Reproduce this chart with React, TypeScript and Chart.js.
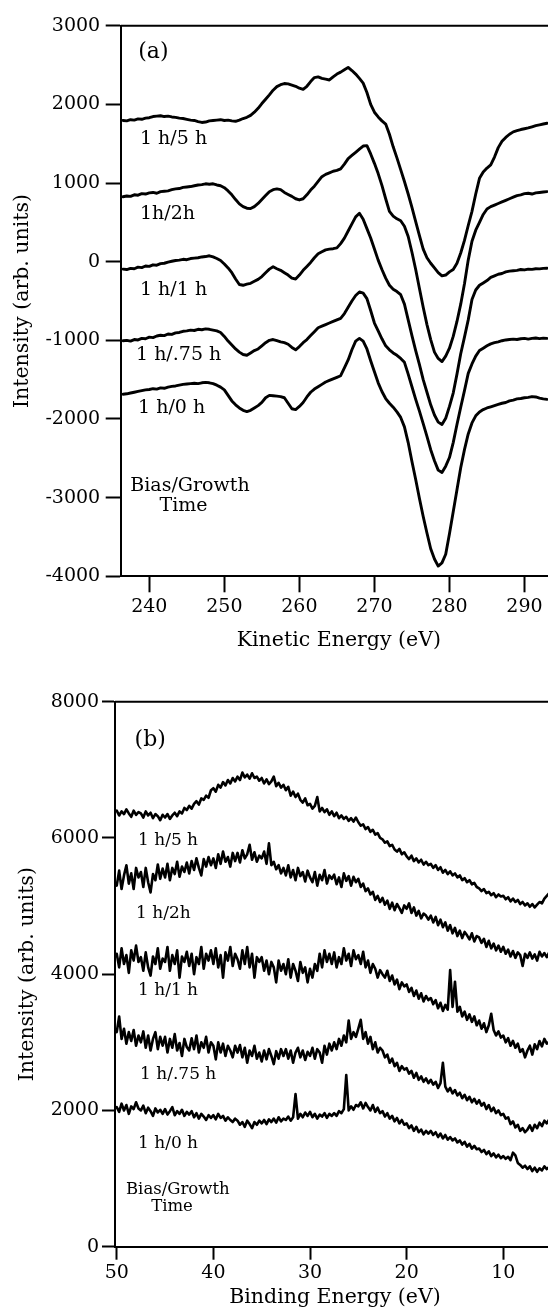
import React, { useEffect, useRef } from 'react';
import { Chart, registerables } from 'chart.js';

Chart.register(...registerables);

const FONT = "'DejaVu Serif', 'Liberation Serif', serif";
const INK = '#000';

// ---------- Panel (a): Auger spectra ----------
const kineticEnergy = [
  236.5, 237, 237.5, 238, 238.5, 239, 239.5, 240, 240.5, 241,
  241.5, 242, 242.5, 243, 243.5, 244, 244.5, 245, 245.5, 246,
  246.5, 247, 247.5, 248, 248.5, 249, 249.5, 250, 250.5, 251,
  251.5, 252, 252.5, 253, 253.5, 254, 254.5, 255, 255.5, 256,
  256.5, 257, 257.5, 258, 258.5, 259, 259.5, 260, 260.5, 261,
  261.5, 262, 262.5, 263, 263.5, 264, 264.5, 265, 265.5, 266,
  266.5, 267, 267.5, 268, 268.5, 269, 269.5, 270, 270.5, 271,
  271.5, 272, 272.5, 273, 273.5, 274, 274.5, 275, 275.5, 276,
  276.5, 277, 277.5, 278, 278.5, 279, 279.5, 280, 280.5, 281,
  281.5, 282, 282.5, 283, 283.5, 284, 284.5, 285, 285.5, 286,
  286.5, 287, 287.5, 288, 288.5, 289, 289.5, 290, 290.5, 291,
  291.5, 292, 292.5, 293,
];

const auger5h = [
  1795, 1790, 1805, 1800, 1815, 1810, 1825, 1830, 1845, 1850,
  1855, 1845, 1850, 1840, 1835, 1825, 1820, 1810, 1800, 1795,
  1780, 1770, 1775, 1790, 1795, 1800, 1805, 1795, 1800, 1790,
  1785, 1800, 1820, 1835, 1860, 1900, 1950, 2010, 2065, 2120,
  2180, 2225, 2250, 2265, 2260, 2245, 2230, 2205, 2190, 2230,
  2290, 2340, 2350, 2330, 2320, 2310, 2350, 2385, 2410, 2440,
  2470, 2430, 2385, 2330, 2270, 2150, 2000, 1900, 1840, 1790,
  1750, 1620, 1460, 1320, 1170, 1020, 860, 690, 510, 330,
  160, 50, -20, -80, -140, -180, -170, -130, -100, -20,
  110, 270, 460, 640, 860, 1060, 1140, 1190, 1230, 1330,
  1450, 1530, 1580, 1620, 1650, 1665, 1680, 1690, 1700, 1715,
  1730, 1740, 1750, 1760,
];

const auger2h = [
  825, 835, 830, 850, 845, 865, 860, 875, 880, 870,
  890, 895, 900, 915, 925, 930, 945, 950, 955, 965,
  975, 980, 990, 985, 990, 975, 965, 940, 900, 850,
  790, 735, 700, 680, 675, 700, 740, 790, 840, 890,
  915, 925, 915, 880, 855, 830, 800, 785, 800, 850,
  910, 960, 1020, 1080, 1110, 1130, 1150, 1160, 1180, 1240,
  1310, 1350, 1390, 1430, 1470, 1475, 1370, 1250, 1120, 970,
  800, 640, 580, 545, 520, 450, 320, 120, -100, -340,
  -580, -800, -990, -1150, -1230, -1270, -1200, -1100, -950, -760,
  -540, -280, 20, 260, 400, 500, 600, 670, 700, 720,
  740, 760, 780, 800, 820, 840, 850, 865, 870, 860,
  875, 880, 885, 890,
];

const auger1h = [
  -95, -100, -85, -90, -70, -75, -55, -60, -40, -45,
  -25, -20, -5, 5, 15, 20, 30, 25, 40, 45,
  50, 60, 65, 75, 60, 40, 15, -30, -80, -140,
  -220, -290, -300, -285, -275, -250, -225, -190, -140, -95,
  -65, -90, -110, -140, -170, -210, -220, -170, -110, -60,
  -10, 50, 100, 125, 150, 160, 165, 175, 230, 300,
  390, 480, 570, 615, 540, 420, 300, 160, 20, -100,
  -210, -300, -350, -380, -420, -540, -740, -940, -1130, -1310,
  -1500, -1660, -1820, -1950, -2040, -2070, -1990, -1840, -1670, -1430,
  -1170, -960, -740, -480, -360, -300, -270, -240, -200, -180,
  -160, -150, -130, -120, -115, -110, -100, -105, -95, -98,
  -90, -92, -85, -84,
];

const auger075h = [
  -1005, -1000, -1010, -990, -995, -975, -980, -960, -965, -945,
  -935, -940, -920, -925, -905, -900, -885, -880, -870, -875,
  -860, -865, -855, -860, -870, -880, -900, -950, -1010, -1060,
  -1110, -1150, -1180, -1190, -1160, -1130, -1110, -1070, -1030, -1000,
  -990, -1005, -1020, -1030, -1050, -1090, -1120, -1080, -1030, -990,
  -940, -890, -840, -820, -800, -780, -760, -740, -720, -660,
  -580, -500, -430, -385, -400, -470, -620, -780, -880, -980,
  -1070, -1120, -1160, -1190, -1230, -1280, -1430, -1590, -1750, -1900,
  -2060, -2220, -2390, -2530, -2650, -2680, -2600, -2490, -2300, -2070,
  -1850, -1640, -1420, -1300, -1200, -1130, -1100, -1070, -1045, -1030,
  -1020, -1005, -995, -990, -985, -990, -980, -975, -985, -975,
  -970, -978, -972, -975,
];

const auger0h = [
  -1685, -1680, -1670, -1660, -1650, -1640, -1630, -1625, -1615, -1620,
  -1605, -1610, -1595, -1585, -1580, -1570, -1560, -1555, -1550, -1545,
  -1550, -1540, -1535, -1540, -1550, -1570, -1595, -1630, -1700, -1770,
  -1820, -1860, -1890, -1905, -1890, -1860, -1830, -1790, -1730, -1700,
  -1705, -1710, -1715, -1730, -1800, -1870, -1880, -1840, -1790, -1720,
  -1660, -1620, -1590, -1560, -1530, -1510, -1490, -1470, -1450, -1350,
  -1250, -1120, -1010, -975, -1010, -1110, -1260, -1400, -1540, -1650,
  -1740, -1800, -1850, -1910, -1980, -2100, -2300, -2540, -2770, -3010,
  -3240, -3450, -3650, -3780, -3870, -3830, -3720, -3460, -3180, -2900,
  -2620, -2390, -2190, -2050, -1960, -1910, -1880, -1860, -1845, -1830,
  -1815, -1800, -1790, -1770, -1760, -1745, -1740, -1730, -1725, -1715,
  -1720, -1735, -1745, -1750,
];

const kineticTicks = [240, 250, 260, 270, 280, 290];
const augerIntensityTicks = [-4000, -3000, -2000, -1000, 0, 1000, 2000, 3000];
const augerLabels = ['1 h/5 h', '1h/2h', '1 h/1 h', '1 h/.75 h', '1 h/0 h'];

// ---------- Panel (b): valence band spectra ----------
const bindingEnergy = [
  50, 49.75, 49.5, 49.25, 49, 48.75, 48.5, 48.25, 48, 47.75,
  47.5, 47.25, 47, 46.75, 46.5, 46.25, 46, 45.75, 45.5, 45.25,
  45, 44.75, 44.5, 44.25, 44, 43.75, 43.5, 43.25, 43, 42.75,
  42.5, 42.25, 42, 41.75, 41.5, 41.25, 41, 40.75, 40.5, 40.25,
  40, 39.75, 39.5, 39.25, 39, 38.75, 38.5, 38.25, 38, 37.75,
  37.5, 37.25, 37, 36.75, 36.5, 36.25, 36, 35.75, 35.5, 35.25,
  35, 34.75, 34.5, 34.25, 34, 33.75, 33.5, 33.25, 33, 32.75,
  32.5, 32.25, 32, 31.75, 31.5, 31.25, 31, 30.75, 30.5, 30.25,
  30, 29.75, 29.5, 29.25, 29, 28.75, 28.5, 28.25, 28, 27.75,
  27.5, 27.25, 27, 26.75, 26.5, 26.25, 26, 25.75, 25.5, 25.25,
  25, 24.75, 24.5, 24.25, 24, 23.75, 23.5, 23.25, 23, 22.75,
  22.5, 22.25, 22, 21.75, 21.5, 21.25, 21, 20.75, 20.5, 20.25,
  20, 19.75, 19.5, 19.25, 19, 18.75, 18.5, 18.25, 18, 17.75,
  17.5, 17.25, 17, 16.75, 16.5, 16.25, 16, 15.75, 15.5, 15.25,
  15, 14.75, 14.5, 14.25, 14, 13.75, 13.5, 13.25, 13, 12.75,
  12.5, 12.25, 12, 11.75, 11.5, 11.25, 11, 10.75, 10.5, 10.25,
  10, 9.75, 9.5, 9.25, 9, 8.75, 8.5, 8.25, 8, 7.75,
  7.5, 7.25, 7, 6.75, 6.5, 6.25, 6, 5.75, 5.5, 5.25,
];

const valence5h = [
  6400, 6330, 6390, 6350, 6420, 6360, 6310, 6400, 6340, 6380,
  6360, 6300, 6390, 6330, 6370, 6290, 6350, 6320, 6260, 6340,
  6300, 6350, 6280, 6330, 6370, 6320, 6390, 6360, 6440, 6410,
  6470, 6430, 6500, 6540, 6490, 6580, 6560, 6620, 6590, 6700,
  6730, 6680, 6780, 6740, 6820, 6770, 6850, 6800, 6880, 6830,
  6900, 6850, 6960, 6890, 6930, 6870, 6950, 6880, 6900, 6840,
  6880, 6800, 6860, 6790, 6830, 6900, 6760, 6810, 6740, 6780,
  6700, 6750, 6620, 6680, 6600, 6650, 6560, 6520, 6580, 6480,
  6500, 6430, 6470, 6600, 6390, 6440, 6380, 6420, 6340, 6390,
  6320, 6370, 6290, 6330, 6280, 6310, 6250, 6290, 6240, 6300,
  6230, 6180, 6200, 6130, 6160, 6090, 6120, 6050, 6070, 6000,
  5980, 5930, 5950, 5880, 5900, 5830, 5800, 5840, 5760, 5790,
  5730, 5690, 5740, 5660, 5700, 5640, 5680, 5610, 5650, 5600,
  5620, 5560, 5600, 5530, 5570, 5490, 5530, 5470, 5510, 5450,
  5480, 5420, 5450, 5380, 5410, 5350, 5380, 5320, 5340, 5280,
  5260, 5220, 5250, 5190, 5210, 5160, 5190, 5130, 5170, 5140,
  5150, 5100, 5130, 5070, 5110, 5060, 5090, 5030, 5060, 5010,
  5040, 4990, 5030, 4980, 5020, 5060, 5040, 5110, 5150, 5190,
];

const valence2h = [
  5300, 5520, 5250, 5450, 5600, 5330, 5480, 5250, 5560, 5420,
  5500, 5280, 5560, 5350, 5200, 5470, 5380, 5610, 5400, 5550,
  5420, 5620, 5380, 5560, 5470, 5650, 5430, 5580, 5500, 5640,
  5480, 5660, 5530, 5700, 5560, 5450, 5690, 5580, 5720, 5600,
  5700, 5560, 5760, 5620, 5800, 5650, 5720, 5580, 5780, 5660,
  5780, 5640, 5820, 5700, 5760, 5900, 5680, 5790, 5650, 5740,
  5700, 5800, 5620, 5920, 5600, 5650, 5540, 5600, 5480, 5560,
  5450, 5600, 5420, 5530, 5380, 5560, 5440, 5500, 5360, 5520,
  5420, 5350, 5500, 5300, 5460, 5380, 5530, 5330, 5450, 5400,
  5460, 5320, 5420, 5280, 5480, 5370, 5440, 5300, 5430, 5350,
  5400, 5280, 5330, 5220, 5260, 5170, 5210, 5090, 5150, 5060,
  5120, 5020, 5080, 4960, 5050, 4940, 5030, 4970, 4900, 5010,
  4960, 5040, 4900, 4980, 4860, 4930, 4820, 4890, 4860, 4800,
  4860, 4760, 4840, 4720, 4800, 4690, 4760, 4640, 4720, 4600,
  4680, 4560, 4640, 4530, 4620, 4570, 4510, 4600, 4480, 4560,
  4540, 4460, 4520, 4400, 4490, 4380, 4450, 4350, 4420, 4330,
  4400, 4300, 4360, 4260, 4340, 4240, 4320, 4280, 4120, 4300,
  4240, 4320, 4230, 4290, 4200, 4330, 4260, 4310, 4250, 4320,
];

const valence1h = [
  4300, 4100, 4380, 4150, 4280, 4020, 4350, 4200, 4420, 4180,
  4250, 4050, 4320, 4100, 3980, 4260, 4150, 4380, 4080, 4230,
  4180, 4400, 4050, 4280, 4150, 4350, 3950, 4260, 4180, 4330,
  4120, 4300, 4000, 4250, 4150, 4400, 4080, 4300, 4200, 4350,
  4150, 4380, 4100, 4280, 3950, 4320, 4200, 4400, 4120, 4300,
  4220, 4080, 4350, 4150, 4400, 4100, 4300, 3950, 4250, 4180,
  4250, 4050, 4200, 4000, 4180, 4100, 3880, 4200, 4050, 4150,
  4000, 4220, 3950, 4150, 4050, 3900, 4180, 4020, 4100, 3880,
  4080, 3950, 4150, 4050, 4300, 4100, 4350, 4180, 4300, 4150,
  4320, 4100, 4250, 4150, 4380, 4200, 4300, 4120, 4350, 4220,
  4280, 4150, 4330, 4100, 4200, 4020, 4150, 4080, 3950, 4060,
  4000, 3950, 4050, 3900, 3980, 3850, 3920, 3780, 3880, 3820,
  3850, 3740, 3800, 3680, 3760, 3640, 3720, 3600, 3680, 3620,
  3650, 3560, 3620, 3500, 3580, 3460, 3550, 3480, 4060, 3520,
  3890, 3450, 3520, 3380, 3450, 3330, 3410, 3300, 3380, 3250,
  3320, 3200, 3280, 3150, 3250, 3420, 3180, 3100, 3160, 3070,
  3100, 3000, 3060, 2950, 3020, 2920, 2980, 2860, 2900, 2780,
  2880, 2950, 2820, 2970, 2900, 3020, 2940, 3050, 2980, 3010,
];

const valence075h = [
  3150, 3380, 3050, 3200, 2980, 3150, 3020, 3180, 2950, 3100,
  3000, 3160, 2920, 3100, 2880, 3050, 3150, 2900, 3080, 2950,
  3080, 2850, 3050, 2920, 3120, 2880, 2990, 2800, 3050, 2930,
  2880, 3060, 2900, 3100, 2850, 3000, 2920, 3080, 2850, 3000,
  2950, 2750, 3000, 2850, 2980, 2800, 2950, 2880, 2780, 2950,
  2850, 2960, 2780, 2920, 2700, 2880, 2800, 2950, 2760, 2850,
  2720, 2880, 2750, 2900, 2800, 2680, 2870, 2760, 2900, 2800,
  2900, 2760, 2880, 2700, 2850, 2920, 2780, 2880, 2740, 2860,
  2800, 2920, 2760, 2900, 2850, 2700, 2950, 2820, 2980, 2880,
  3000, 2900, 3050, 2950, 3100, 3000, 3320, 3050, 3150, 3080,
  3200, 3330, 3050, 3150, 2980, 3080, 2900, 3000, 2850, 2920,
  2880, 2780, 2820, 2700, 2760, 2650, 2700, 2580, 2650, 2600,
  2620, 2540, 2580, 2480, 2550, 2450, 2500, 2420, 2470, 2400,
  2450, 2380, 2420, 2330, 2400, 2700, 2350, 2280, 2330, 2250,
  2300, 2220, 2260, 2180, 2230, 2150, 2200, 2120, 2170, 2100,
  2150, 2070, 2110, 2020, 2080, 1990, 2040, 1960, 2000, 1930,
  1950, 1880, 1900, 1800, 1840, 1750, 1790, 1700, 1740, 1680,
  1720, 1780, 1700, 1790, 1740, 1820, 1770, 1850, 1810, 1870,
];

const valence0h = [
  2050, 1980, 2100, 2000, 2080, 1950, 2060, 2020, 2120, 2030,
  2000, 2070, 1960, 2040, 1990, 1920, 2030, 1970, 2010, 1950,
  2020, 1940, 1990, 2050, 1930, 1990, 1950, 2010, 1920, 1980,
  1940, 1990, 1900, 1960, 1880, 1950, 1910, 1860, 1930, 1890,
  1930, 1870, 1950, 1890, 1920, 1850, 1900, 1860, 1830, 1880,
  1850, 1790, 1830, 1760, 1850, 1800, 1740, 1830, 1790, 1850,
  1810, 1860, 1800, 1870, 1830, 1880, 1820, 1900, 1840, 1880,
  1860, 1910, 1850, 1900, 2240, 1880, 1950, 1900, 1970, 1920,
  1980, 1900, 1950, 1880, 1940, 1910, 1960, 1890, 1950, 1920,
  1960, 1920, 1990, 1960, 2020, 2520, 2000, 2060, 2010, 2080,
  2060, 2120, 2030, 2110, 2050, 2000, 2080, 1980, 2040, 1960,
  1990, 1910, 1960, 1880, 1920, 1840, 1890, 1810, 1860, 1790,
  1810, 1740, 1780, 1700, 1760, 1680, 1720, 1650, 1700, 1660,
  1700, 1640, 1680, 1610, 1660, 1590, 1640, 1570, 1610, 1560,
  1590, 1530, 1560, 1500, 1540, 1470, 1510, 1440, 1480, 1430,
  1440, 1390, 1420, 1360, 1400, 1330, 1370, 1310, 1350, 1300,
  1330, 1290, 1320, 1270, 1380, 1340, 1230, 1200, 1160, 1190,
  1140, 1180, 1110, 1160, 1100, 1150, 1120, 1180, 1140, 1170,
];

const bindingTicks = [50, 40, 30, 20, 10];
const valenceIntensityTicks = [0, 2000, 4000, 6000, 8000];
const valenceLabels = ['1 h/5 h', '1 h/2h', '1 h/1 h', '1 h/.75 h', '1 h/0 h'];

// ---------- annotation anchors (data coordinates) ----------
type Note = { text: string; x: number; y: number; align: CanvasTextAlign; size: number };

const augerNotes: Note[] = [
  { text: '(a)', x: 238.53, y: 2666, align: 'left', size: 22 },
  { text: augerLabels[0], x: 238.76, y: 1560, align: 'left', size: 19 },
  { text: augerLabels[1], x: 238.76, y: 606, align: 'left', size: 19 },
  { text: augerLabels[2], x: 238.76, y: -360, align: 'left', size: 19 },
  { text: augerLabels[3], x: 238.23, y: -1186, align: 'left', size: 19 },
  { text: augerLabels[4], x: 238.5, y: -1860, align: 'left', size: 19 },
  { text: 'Bias/Growth', x: 245.42, y: -2858, align: 'center', size: 19 },
  { text: 'Time', x: 244.56, y: -3112, align: 'center', size: 19 },
];

const valenceNotes: Note[] = [
  { text: '(b)', x: 48.15, y: 7440, align: 'left', size: 22 },
  { text: valenceLabels[0], x: 47.8, y: 5957, align: 'left', size: 17 },
  { text: valenceLabels[1], x: 48.0, y: 4885, align: 'left', size: 17 },
  { text: valenceLabels[2], x: 47.8, y: 3755, align: 'left', size: 17 },
  { text: valenceLabels[3], x: 47.59, y: 2521, align: 'left', size: 17 },
  { text: valenceLabels[4], x: 47.8, y: 1508, align: 'left', size: 17 },
  { text: 'Bias/Growth', x: 43.68, y: 833, align: 'center', size: 16.5 },
  { text: 'Time', x: 44.28, y: 583, align: 'center', size: 16.5 },
];

function framePlugin(id: string, notes: Note[]) {
  return {
    id,
    afterDraw(chart: any) {
      const { ctx, chartArea, scales } = chart;
      ctx.save();
      ctx.strokeStyle = INK;
      ctx.lineWidth = 2;
      ctx.beginPath();
      ctx.moveTo(chartArea.left, chartArea.top);
      ctx.lineTo(chartArea.right, chartArea.top);
      ctx.lineTo(chartArea.right, chartArea.bottom);
      ctx.stroke();
      ctx.fillStyle = INK;
      ctx.textBaseline = 'middle';
      for (const n of notes) {
        ctx.font = `${n.size}px ${FONT}`;
        ctx.textAlign = n.align;
        ctx.fillText(n.text, scales.x.getPixelForValue(n.x), scales.y.getPixelForValue(n.y));
      }
      ctx.restore();
    },
  };
}

type AxisSpec = {
  ticks: number[];
  min: number;
  max: number;
  reverse?: boolean;
  tickLength: number;
  labelPad: number;
  size: number; // width for y, height for x
  title: string;
  titlePad: { top: number; bottom: number };
};

function axis(spec: AxisSpec, horizontal: boolean) {
  return {
    type: 'linear',
    min: spec.min,
    max: spec.max,
    reverse: !!spec.reverse,
    afterBuildTicks: (s: any) => {
      s.ticks = spec.ticks.map((v) => ({ value: v }));
    },
    afterFit: (s: any) => {
      if (horizontal) s.height = spec.size;
      else s.width = spec.size;
    },
    grid: {
      display: true,
      drawOnChartArea: false,
      drawTicks: true,
      tickLength: spec.tickLength,
      tickWidth: 2,
      tickColor: INK,
      color: INK,
    },
    border: { display: true, color: INK, width: 2 },
    ticks: {
      color: INK,
      font: { family: FONT, size: 19 },
      padding: spec.labelPad,
      maxRotation: 0,
      minRotation: 0,
      autoSkip: false,
      callback: (v: any) => String(v),
    },
    title: {
      display: true,
      text: spec.title,
      color: INK,
      font: { family: FONT, size: 20.5 },
      padding: spec.titlePad,
    },
  };
}

function buildConfig(
  xs: number[],
  series: number[][],
  lineWidth: number,
  xSpec: AxisSpec,
  ySpec: AxisSpec,
  padding: { top: number; right: number; bottom: number; left: number },
  plugin: any
) {
  return {
    type: 'line',
    data: {
      datasets: series.map((vals) => ({
        data: xs.map((x, i) => ({ x, y: vals[i] })),
        borderColor: INK,
        borderWidth: lineWidth,
        pointRadius: 0,
        tension: 0,
        fill: false,
        borderJoinStyle: 'round',
        borderCapStyle: 'round',
      })),
    },
    options: {
      responsive: false,
      maintainAspectRatio: false,
      animation: false,
      devicePixelRatio: 1,
      layout: { padding },
      plugins: { legend: { display: false }, tooltip: { enabled: false } },
      scales: { x: axis(xSpec, true), y: axis(ySpec, false) },
    },
    plugins: [plugin],
  };
}

const buildAuger = () =>
  buildConfig(
    kineticEnergy,
    [auger5h, auger2h, auger1h, auger075h, auger0h],
    2.9,
    {
      ticks: kineticTicks, min: 236.19, max: 294.33, tickLength: 16, labelPad: 3.5,
      size: 88.7, title: 'Kinetic Energy (eV)', titlePad: { top: 0, bottom: 11.7 },
    },
    {
      ticks: augerIntensityTicks, min: -4000, max: 3000, tickLength: 15, labelPad: 5.5,
      size: 120.7, title: 'Intensity (arb. units)', titlePad: { top: 10.7, bottom: 0 },
    },
    { top: 25.7, right: 3, bottom: 0, left: 0 },
    framePlugin('frameA', augerNotes)
  );

const buildValence = () =>
  buildConfig(
    bindingEnergy,
    [valence5h, valence2h, valence1h, valence075h, valence0h],
    2.6,
    {
      ticks: bindingTicks, min: 4.65, max: 50.18, reverse: true, tickLength: 13, labelPad: 2.4,
      size: 65.3, title: 'Binding Energy (eV)', titlePad: { top: 0, bottom: 1.7 },
    },
    {
      ticks: valenceIntensityTicks, min: 0, max: 8000, tickLength: 13, labelPad: 3,
      size: 115, title: 'Intensity (arb. units)', titlePad: { top: 15.7, bottom: 0 },
    },
    { top: 36.7, right: 5, bottom: 0, left: 0 },
    framePlugin('frameB', valenceNotes)
  );

function SpectrumChart({ width, height, build }: { width: number; height: number; build: () => any }) {
  const ref = useRef<HTMLCanvasElement>(null);
  useEffect(() => {
    if (!ref.current) return;
    const chart = new Chart(ref.current, build());
    return () => chart.destroy();
  }, [build]);
  return (
    <canvas
      ref={ref}
      width={width}
      height={height}
      style={{ display: 'block', width: `${width}px`, height: `${height}px` }}
    />
  );
}

export default function App() {
  return (
    <div style={{ position: 'relative', width: 548, height: 1312, overflow: 'hidden', background: '#fff' }}>
      <style>{'html,body{margin:0;padding:0;background:#fff;overflow:hidden}'}</style>
      <div style={{ position: 'absolute', left: 0, top: 0 }}>
        <SpectrumChart width={560} height={665} build={buildAuger} />
      </div>
      <div style={{ position: 'absolute', left: 0, top: 665 }}>
        <SpectrumChart width={560} height={647} build={buildValence} />
      </div>
    </div>
  );
}
